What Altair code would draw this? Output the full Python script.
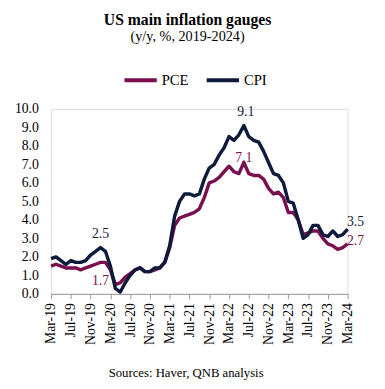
import json
import altair as alt
import pandas as pd

# ---- data ----
tick_labels = ["Mar-19", "Jul-19", "Nov-19", "Mar-20", "Jul-20", "Nov-20", "Mar-21", "Jul-21",
               "Nov-21", "Mar-22", "Jul-22", "Nov-22", "Mar-23", "Jul-23", "Nov-23", "Mar-24"]

cpi = [1.9, 2.0, 1.8, 1.6, 1.8, 1.7, 1.7, 1.8, 2.1, 2.3,
       2.5, 2.3, 1.5, 0.3, 0.1, 0.6, 1.0, 1.3, 1.4, 1.2, 1.2, 1.4,
       1.4, 1.7, 2.6, 4.2, 5.0, 5.4, 5.4, 5.3, 5.4, 6.2, 6.8, 7.0,
       7.5, 7.9, 8.5, 8.3, 8.6, 9.1, 8.5, 8.3, 8.2, 7.7, 7.1, 6.5,
       6.4, 6.0, 5.0, 4.9, 4.0, 3.0, 3.2, 3.7, 3.7, 3.2, 3.1, 3.4,
       3.1, 3.2, 3.5]

pce = [1.5, 1.6, 1.5, 1.4, 1.4, 1.4, 1.3, 1.4, 1.5, 1.6,
       1.7, 1.7, 1.3, 0.5, 0.6, 0.9, 1.1, 1.3, 1.4, 1.2, 1.2, 1.3,
       1.4, 1.7, 2.5, 3.7, 4.1, 4.2, 4.3, 4.4, 4.6, 5.2, 6.0, 6.1,
       6.3, 6.6, 6.9, 6.6, 6.5, 7.1, 6.5, 6.4, 6.4, 6.2, 5.7, 5.4,
       5.5, 5.2, 4.4, 4.4, 4.0, 3.2, 3.3, 3.4, 3.4, 3.0, 2.7, 2.6,
       2.4, 2.5, 2.7]

series_names = ["PCE", "CPI"]
series_colors = ["#7a0f4f", "#0e1a3c"]

# annotated points: (series, month index)
annot_points = [("CPI", 10), ("PCE", 10), ("CPI", 39), ("PCE", 39), ("CPI", 60), ("PCE", 60)]

title_text = "US main inflation gauges"
subtitle_text = "(y/y, %, 2019-2024)"
footer_text = "Sources: Haver, QNB analysis"

FONT = "Liberation Serif"

rows = []
for i, v in enumerate(pce):
    rows.append({"m": i, "series": "PCE", "value": v})
for i, v in enumerate(cpi):
    rows.append({"m": i, "series": "CPI", "value": v})
df = pd.DataFrame(rows)

vals = {"PCE": pce, "CPI": cpi}
ann = pd.DataFrame([{"m": m, "series": s, "value": vals[s][m], "label": f"{vals[s][m]:.1f}", "key": f"{s}{m}"}
                    for s, m in annot_points])

label_expr = f"{json.dumps(tick_labels)}[round(datum.value/4)]"

x_scale = alt.Scale(domain=[0, 60], nice=False, zero=False)
y_scale = alt.Scale(domain=[0, 10], nice=False)

x_axis = alt.Axis(values=list(range(0, 61, 4)), labelExpr=label_expr, labelAngle=270,
                  title=None, grid=False, tickSize=5, tickColor="#999999",
                  domainColor="#999999", labelPadding=4, labelFont=FONT,
                  labelFontSize=14, labelColor="#000000", labelOverlap=False,
                  labelFlush=False, labelBound=False)
y_axis = alt.Axis(values=list(range(0, 11)), format=".1f", title=None, grid=False,
                  ticks=False, domain=False, labelPadding=13, labelFont=FONT,
                  labelFontSize=14, labelColor="#000000", labelOverlap=False,
                  labelFlush=False, labelBound=False)

color_scale = alt.Scale(domain=series_names, range=series_colors)
color_enc = alt.Color("series:N", scale=color_scale,
                      legend=alt.Legend(title=None, orient="none", direction="horizontal",
                                        legendX=73, legendY=-48, symbolType="stroke",
                                        symbolSize=1089, symbolStrokeWidth=4,
                                        labelFont=FONT, labelFontSize=15, labelColor="#000000",
                                        labelOffset=3, columnPadding=10))

lines = alt.Chart(df).mark_line(strokeWidth=3.5, strokeJoin="round").encode(
    x=alt.X("m:Q", scale=x_scale, axis=x_axis),
    y=alt.Y("value:Q", scale=y_scale, axis=y_axis),
    color=color_enc, order="m:Q")

offsets = {"CPI10": (0, -14), "PCE10": (0, 19), "CPI39": (2, -14), "PCE39": (0, -5),
           "CPI60": (8, -7), "PCE60": (8, -3)}
text_layers = []
for key, (dx, dy) in offsets.items():
    t = alt.Chart(ann).transform_filter(alt.datum.key == key).mark_text(
        font=FONT, fontSize=14, dx=dx, dy=dy, align="center", baseline="middle").encode(
        x=alt.X("m:Q", scale=x_scale, axis=x_axis),
        y=alt.Y("value:Q", scale=y_scale, axis=y_axis),
        text="label:N",
        color=alt.Color("series:N", scale=color_scale, legend=None))
    text_layers.append(t)

footer = alt.Chart(pd.DataFrame({"t": [footer_text]})).mark_text(
    font=FONT, fontSize=13, align="center", baseline="middle", color="#000000").encode(
    text="t:N", x=alt.value(138), y=alt.value(270))

chart = alt.layer(lines, *text_layers, footer).properties(
    width=303, height=189,
    autosize=alt.AutoSizeParams(type="none"),
    padding={"left": 44, "top": 99, "right": 30, "bottom": 86},
    title=alt.TitleParams(text=title_text, subtitle=subtitle_text, anchor="middle", dx=-12,
                          font=FONT, fontSize=16, fontWeight="bold", color="#000000",
                          subtitleFont=FONT, subtitleFontSize=14.5, subtitleColor="#000000",
                          subtitlePadding=2, offset=19),
).configure_view(strokeWidth=0).configure(background="white")

chart.save("out.html", embed_options={"renderer": "svg", "actions": False})
